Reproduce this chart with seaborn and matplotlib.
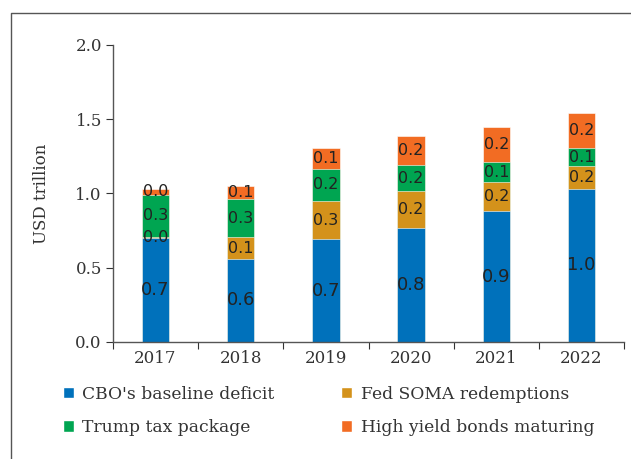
import numpy as np
import pandas as pd
import matplotlib
matplotlib.use("Agg")
import matplotlib.pyplot as plt
from matplotlib.patches import Patch
from matplotlib.lines import Line2D
import seaborn as sns

# data (USD trillion)
years = ["2017", "2018", "2019", "2020", "2021", "2022"]
cbo_deficit = [0.70, 0.56, 0.69, 0.77, 0.88, 1.03]
soma_redemptions = [0.01, 0.145, 0.26, 0.245, 0.195, 0.155]
trump_tax = [0.28, 0.255, 0.215, 0.175, 0.135, 0.12]
high_yield = [0.04, 0.09, 0.14, 0.195, 0.24, 0.24]

series_names = ["CBO's baseline deficit", "Fed SOMA redemptions",
                "Trump tax package", "High yield bonds maturing"]
colors = ["#0071bb", "#d4921b", "#00a551", "#f26c23"]

df = pd.DataFrame({"year": years,
                   series_names[0]: cbo_deficit,
                   series_names[1]: soma_redemptions,
                   series_names[2]: trump_tax,
                   series_names[3]: high_yield})

sns.set_style("ticks")
plt.rcParams["font.family"] = ["DejaVu Serif"]

fig = plt.figure(figsize=(6.31, 4.59), dpi=100)
ax = fig.add_axes([0.179, 0.255, 0.810, 0.647])

# stacked bars: draw cumulative totals from the top layer down
cum = df[series_names].cumsum(axis=1)
for name, col in reversed(list(zip(series_names, colors))):
    sns.barplot(x=df["year"], y=cum[name], color=col, width=0.32,
                saturation=1, ax=ax, edgecolor="white", linewidth=0.4)

# segment labels
bottoms = cum.shift(1, axis=1).fillna(0)
for i in range(len(years)):
    for j, name in enumerate(series_names):
        val = df[name].iloc[i]
        mid = bottoms[name].iloc[i] + val / 2
        ax.text(i, mid, f"{val:.1f}", ha="center", va="center",
                fontsize=13 if j == 0 else 11.5, color="#222222",
                family="DejaVu Sans")

ax.set_ylim(0, 2.0)
ax.set_xlim(-0.5, len(years) - 0.5)
ax.set_yticks([0, 0.5, 1.0, 1.5, 2.0])
ax.set_yticklabels(["0.0", "0.5", "1.0", "1.5", "2.0"])
ax.set_xticks(np.arange(-0.5, len(years), 1.0))
ax.set_xticklabels([])
ax.set_xticks(np.arange(len(years)), labels=years, minor=True)
ax.tick_params(axis="x", which="minor", length=0, pad=6)
ax.tick_params(axis="x", which="major", length=5, direction="out")
ax.tick_params(axis="y", length=5, pad=3)
ax.tick_params(which="both", labelsize=12, colors="#333333")
ax.set_xlabel("")
ax.set_ylabel("USD trillion", fontsize=12, color="#333333", labelpad=18)
for side in ["top", "right"]:
    ax.spines[side].set_visible(False)
for side in ["left", "bottom"]:
    ax.spines[side].set_color("#555555")
    ax.spines[side].set_linewidth(1.0)

# legend in two rows
order = [0, 2, 1, 3]
handles = [Patch(facecolor=colors[k], label=series_names[k]) for k in order]
fig.legend(handles=handles, ncol=2, frameon=False, loc="upper left",
           bbox_to_anchor=(0.075, 0.193), fontsize=12.3,
           handlelength=0.65, handleheight=0.65, handletextpad=0.5,
           columnspacing=3.9, labelspacing=0.95, labelcolor="#333333")

# frame around the panel (left and top edges)
fig.add_artist(Line2D([0.0175, 0.0175, 1.0], [0.0, 0.972, 0.972],
                      transform=fig.transFigure, color="#555555", lw=1.0))

fig.savefig("out.png", dpi=100)
